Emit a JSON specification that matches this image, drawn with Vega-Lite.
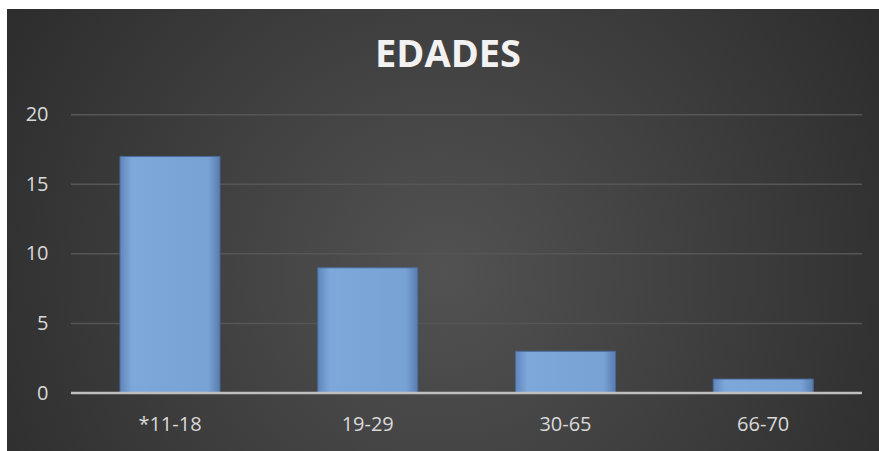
{
  "$schema": "https://vega.github.io/schema/vega-lite/v6.json",
  "width": 872,
  "height": 442,
  "autosize": {"type": "none"},
  "padding": {"left": 7, "top": 9, "right": 0, "bottom": 0},
  "background": "#ffffff",
  "config": {
    "font": "Open Sans",
    "view": {
      "stroke": null,
      "fill": {
        "gradient": "radial",
        "x1": 0.5, "y1": 0.55, "r1": 0,
        "x2": 0.5, "y2": 0.55, "r2": 0.75,
        "stops": [
          {"offset": 0, "color": "#525252"},
          {"offset": 1, "color": "#222222"}
        ]
      }
    }
  },
  "title": {
    "text": "EDADES",
    "font": "Open Sans",
    "fontSize": 38,
    "fontWeight": "bold",
    "color": "#f2f2f2",
    "anchor": "middle",
    "baseline": "alphabetic",
    "offset": 0,
    "dy": 96,
    "dx": 5
  },
  "data": {
    "values": [
      {"edad": "*11-18", "n": 17},
      {"edad": "19-29", "n": 9},
      {"edad": "30-65", "n": 3},
      {"edad": "66-70", "n": 1}
    ]
  },
  "layer": [
    {
      "data": {"values": [{"grid": 5}, {"grid": 10}, {"grid": 15}, {"grid": 20}]},
      "mark": {"type": "rule", "color": "#565656", "strokeWidth": 1.5},
      "encoding": {
        "y": {"field": "grid", "type": "quantitative"},
        "x": {"datum": "*11-18", "bandPosition": -0.49},
        "x2": {"datum": "66-70", "bandPosition": 1.4875}
      }
    },
    {
      "mark": {
        "type": "bar",
        "fill": {
          "gradient": "linear",
          "x1": 0, "y1": 0, "x2": 1, "y2": 0,
          "stops": [
            {"offset": 0, "color": "#5f86bb"},
            {"offset": 0.12, "color": "#7ea8da"},
            {"offset": 0.88, "color": "#79a2d4"},
            {"offset": 1, "color": "#587db1"}
          ]
        },
        "stroke": "#4a6a98",
        "strokeWidth": 1
      },
      "encoding": {
        "x": {
          "field": "edad",
          "type": "nominal",
          "scale": {
            "domain": ["*11-18", "19-29", "30-65", "66-70"],
            "paddingInner": 0.4943,
            "paddingOuter": 0.452,
            "align": 0.632
          },
          "axis": {
            "title": null,
            "orient": "bottom",
            "offset": -58,
            "bandPosition": 0.5,
            "domain": false,
            "ticks": false,
            "labelPadding": 31,
            "labelFontSize": 20,
            "labelColor": "#d9d9d9",
            "labelAngle": 0,
            "labelAlign": "center",
            "labelFont": "Open Sans"
          }
        },
        "y": {
          "field": "n",
          "type": "quantitative",
          "scale": {"domain": [-4.168, 27.596], "nice": false, "zero": false},
          "axis": {
            "title": null,
            "orient": "left",
            "offset": -41,
            "values": [0, 5, 10, 15, 20],
            "domain": false,
            "ticks": false,
            "grid": false,
            "labelPadding": 0,
            "labelFontSize": 20,
            "labelColor": "#d9d9d9",
            "labelFont": "Open Sans"
          }
        }
      }
    },
    {
      "data": {"values": [{"base": 0}]},
      "mark": {"type": "rule", "color": "#bfbfbf", "strokeWidth": 2.5},
      "encoding": {
        "y": {"field": "base", "type": "quantitative"},
        "x": {"datum": "*11-18", "bandPosition": -0.49},
        "x2": {"datum": "66-70", "bandPosition": 1.4875}
      }
    }
  ]
}
